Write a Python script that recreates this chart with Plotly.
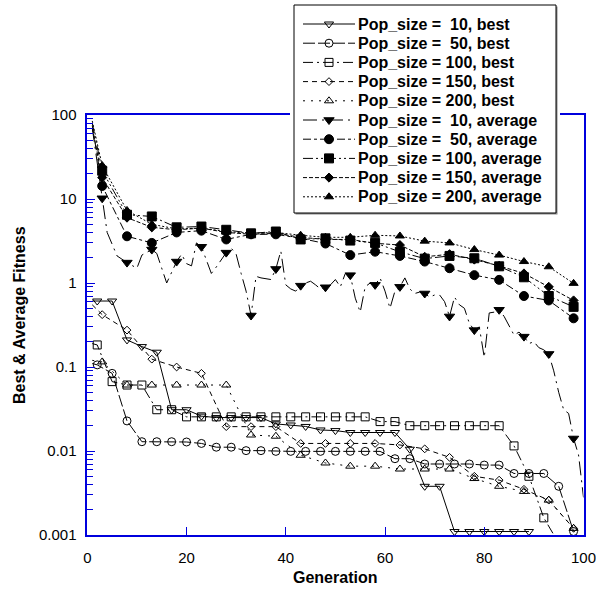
import plotly.graph_objects as go

# ---------------- data ----------------
GEN_STEP3 = [2, 5, 8, 11, 14, 17, 20, 23, 26, 29, 32, 35, 38, 41, 44, 47, 50,
             53, 56, 59, 62, 65, 68, 71, 74, 77, 80, 83, 86, 89, 92, 95, 98]
GEN_STEP5 = [3, 8, 13, 18, 23, 28, 33, 38, 43, 48, 53, 58, 63, 68, 73, 78,
             83, 88, 93, 98]
START_GEN = 1

P10_BEST = [0.61, 0.61, 0.21, 0.175, 0.15, 0.031, 0.031, 0.026, 0.025, 0.025,
            0.025, 0.025, 0.021, 0.0204, 0.0196, 0.0178, 0.0175, 0.0166, 0.0166, 0.0166,
            0.0166, 0.0105, 0.0038, 0.0038, 0.0011, 0.0011, 0.0011, 0.0011, 0.0011, 0.0011]
P50_BEST = [0.106, 0.084, 0.0228, 0.0129, 0.0129, 0.0129, 0.0128, 0.0123, 0.0111, 0.0111,
            0.0101, 0.0101, 0.0099, 0.0099, 0.0099, 0.0099, 0.0099, 0.0099, 0.0099, 0.0099,
            0.0081, 0.0081, 0.0070, 0.0070, 0.0070, 0.0070, 0.0068, 0.0068, 0.0054, 0.0054,
            0.0054, 0.0038, 0.0011]
P100_BEST = [0.183, 0.067, 0.061, 0.061, 0.031, 0.031, 0.0255, 0.0255, 0.0255, 0.0255,
             0.0255, 0.0255, 0.0255, 0.0255, 0.0255, 0.0255, 0.0255, 0.0255, 0.0255, 0.0224,
             0.0224, 0.020, 0.020, 0.020, 0.020, 0.020, 0.020, 0.020, 0.0115, 0.0050,
             0.0016, 0.0008]
P150_BEST = [0.42, 0.275, 0.124, 0.10, 0.084, 0.0195, 0.0195, 0.0195, 0.0123, 0.0123,
             0.0123, 0.0123, 0.0118, 0.0106, 0.0084, 0.0050, 0.0045, 0.0035, 0.0026, 0.0012]
P200_BEST = [0.115, 0.061, 0.061, 0.061, 0.061, 0.061, 0.0155, 0.0150, 0.0089, 0.0072,
             0.0066, 0.0066, 0.0061, 0.0061, 0.0061, 0.0047, 0.0038, 0.0033, 0.0026, 0.0012]

P10_AVG = [10.2, 1.75, 2.5, 1.8, 2.7, 2.3, 0.41, 1.47, 0.93, 0.89,
           1.24, 0.95, 0.90, 0.75, 0.40, 0.275, 0.48, 0.23, 0.143, 0.0141]
P50_AVG = [14.3, 3.6, 3.0, 4.0, 4.2, 3.3, 3.8, 3.8, 3.4, 2.95,
           2.15, 2.36, 2.1, 1.8, 1.5, 1.24, 1.09, 0.70, 0.62, 0.38]
P100_AVG = [21.7, 6.5, 6.2, 4.6, 4.7, 4.3, 3.9, 4.1, 3.3, 3.4,
            3.2, 3.0, 2.35, 1.95, 2.1, 1.97, 1.58, 1.17, 0.70, 0.52]
P150_AVG = [18.0, 6.0, 4.6, 4.3, 4.5, 4.0, 3.8, 3.9, 3.5, 3.3,
            3.3, 2.97, 2.83, 2.05, 2.2, 1.9, 1.6, 1.3, 0.90, 0.62]
P200_AVG = [25.0, 7.3, 5.0, 4.4, 4.5, 4.1, 3.9, 4.0, 3.7, 3.5,
            3.5, 3.7, 3.63, 3.15, 3.0, 2.5, 2.15, 1.8, 1.56, 0.99]

# generation-by-generation path of the (very noisy) Pop_size = 10 average curve
P10_AVG_LINE_GEN = [1, 3, 4, 6, 8, 10, 11, 13, 14, 16, 18, 19, 20, 21, 22, 23, 25, 26, 28, 29,
                    30, 31, 32, 33, 34, 35, 37, 38, 39, 40, 41, 42, 43, 44, 45, 46, 47, 48, 49, 50,
                    51, 52, 53, 54, 55, 56, 57, 58, 59, 60, 61, 62, 63, 64, 65, 66, 67, 68, 69, 70,
                    71, 72, 73, 74, 75, 76, 77, 78, 79, 80, 81, 82, 83, 84, 86, 87, 88, 89, 90, 91,
                    92, 93, 94, 95, 96, 97, 98, 99, 100]
P10_AVG_LINE = [70, 10.2, 4.0, 2.1, 1.75, 1.5, 2.15, 2.5, 2.25, 1.0, 1.8, 2.2, 1.7, 1.6, 3.0, 2.7, 1.3, 1.55, 2.3, 2.6,
                2.2, 1.3, 0.8, 0.41, 1.2, 1.15, 1.1, 1.47, 2.4, 0.95, 0.85, 0.8, 0.93, 1.0, 1.05, 0.95, 0.85, 0.89, 0.95, 1.1,
                0.9, 1.3, 1.24, 0.66, 0.45, 0.9, 1.0, 0.95, 1.15, 0.8, 0.5, 0.8, 0.90, 1.15, 0.85, 0.75, 0.78, 0.75, 0.68, 0.72,
                0.72, 0.6, 0.40, 0.68, 0.55, 0.5, 0.33, 0.275, 0.3, 0.13, 0.44, 0.45, 0.48, 0.4, 0.24, 0.26, 0.23, 0.19, 0.2, 0.17,
                0.16, 0.143, 0.09, 0.05, 0.031, 0.028, 0.0141, 0.009, 0.0028]

SERIES_NAMES = ["Pop_size = \u00a010, best", "Pop_size = \u00a050, best", "Pop_size = 100, best",
                "Pop_size = 150, best", "Pop_size = 200, best",
                "Pop_size = \u00a010, average", "Pop_size = \u00a050, average", "Pop_size = 100, average",
                "Pop_size = 150, average", "Pop_size = 200, average"]
SERIES_GENS = [GEN_STEP3, GEN_STEP3, GEN_STEP3, GEN_STEP5, GEN_STEP5,
               GEN_STEP5, GEN_STEP5, GEN_STEP5, GEN_STEP5, GEN_STEP5]
SERIES_VALS = [P10_BEST, P50_BEST, P100_BEST, P150_BEST, P200_BEST,
               P10_AVG, P50_AVG, P100_AVG, P150_AVG, P200_AVG]
START_VALS = [0.61, 0.11, 0.19, 0.55, 0.12, None, 75, 80, 70, 85]

# ---------------- styles ----------------
SYMBOLS = ["triangle-down-open", "circle-open", "square-open", "diamond-open", "triangle-up-open",
           "triangle-down", "circle", "square", "diamond", "triangle-up"]
SIZES = [8, 8, 8, 6, 8, 9, 9, 9, 7, 8]
DASHES = ["solid", "12px,3px", "10px,4px,2px,4px", "5px,4px", "2px,6px",
          "14px,5px,2px,5px", "8px,3px,3px,3px", "10px,3px,2px,3px,2px,3px", "4px,2px", "2px,2px"]

W, H = 596, 589
PL, PR, PT, PB = 87.3, 583.5, 115, 535
BLUE = "#0000dd"
FONT = "Liberation Sans, Arial, sans-serif"

fig = go.Figure()

for i, name in enumerate(SERIES_NAMES):
    gens, vals = SERIES_GENS[i], SERIES_VALS[i]
    mg = gens[:len(vals)]
    if i == 5:
        lx, ly = P10_AVG_LINE_GEN, P10_AVG_LINE
    else:
        lx = [START_GEN] + mg
        ly = [START_VALS[i]] + vals
    fig.add_trace(go.Scatter(x=lx, y=ly, mode="lines", showlegend=False, hoverinfo="skip",
                             line=dict(color="black", width=1, dash=DASHES[i])))
    fig.add_trace(go.Scatter(x=mg, y=vals, mode="markers", showlegend=False, name=name,
                             marker=dict(symbol=SYMBOLS[i], size=SIZES[i], color="black",
                                         line=dict(color="black", width=1))))

# ---------------- legend panel (own sub-plot so it covers the data) ----------------
BOX_W, BOX_H = 262, 208
fig.add_trace(go.Scatter(x=[1.5, BOX_W + 1.5, BOX_W + 1.5, 1.5, 1.5],
                         y=[1.5, 1.5, BOX_H + 1.5, BOX_H + 1.5, 1.5],
                         fill="toself", fillcolor="#888888", mode="lines",
                         line=dict(width=0, color="#888888"),
                         xaxis="x2", yaxis="y2", showlegend=False, hoverinfo="skip"))
fig.add_trace(go.Scatter(x=[0, BOX_W, BOX_W, 0, 0], y=[0, 0, BOX_H, BOX_H, 0],
                         fill="toself", fillcolor="white", mode="lines",
                         line=dict(width=1, color="black"),
                         xaxis="x2", yaxis="y2", showlegend=False, hoverinfo="skip"))
for i, name in enumerate(SERIES_NAMES):
    row = 19 + 19.2 * i
    fig.add_trace(go.Scatter(x=[9, 61], y=[row, row], mode="lines", xaxis="x2", yaxis="y2",
                             showlegend=False, hoverinfo="skip",
                             line=dict(color="black", width=1, dash=DASHES[i])))
    fig.add_trace(go.Scatter(x=[35], y=[row], mode="markers", xaxis="x2", yaxis="y2",
                             showlegend=False, hoverinfo="skip",
                             marker=dict(symbol=SYMBOLS[i], size=SIZES[i], color="black",
                                         line=dict(color="black", width=1))))
    fig.add_annotation(x=62, y=row, xref="x2", yref="y2", text=name, showarrow=False,
                       xanchor="left", yanchor="middle",
                       font=dict(family=FONT, size=16, color="black", weight="bold"))

# ---------------- axes ----------------
minor_vals = [m * 10 ** e for e in range(-3, 2) for m in range(2, 10)]
fig.update_layout(
    template="none",
    width=W, height=H, autosize=False,
    margin=dict(l=0, r=0, t=0, b=0, pad=0, autoexpand=False),
    paper_bgcolor="white", plot_bgcolor="white", showlegend=False,
    font=dict(family=FONT, color="black"),
    xaxis=dict(domain=[PL / W, PR / W], range=[0, 100], tickvals=[0, 20, 40, 60, 80, 100],
               ticks="inside", ticklen=8, tickcolor=BLUE, tickwidth=1,
               showline=True, linecolor=BLUE, linewidth=1.5, mirror=True,
               showgrid=False, zeroline=False, tickfont=dict(size=15, family=FONT),
               ticklabelstandoff=8, ticklabeloverflow="allow", anchor="y", automargin=False),
    yaxis=dict(domain=[1 - PB / H, 1 - PT / H], type="log", range=[-3, 2],
               tickvals=[0.001, 0.01, 0.1, 1, 10, 100],
               ticktext=["0.001", "0.01", "0.1", "1", "10", "100"],
               ticks="inside", ticklen=8, tickcolor=BLUE, tickwidth=1,
               minor=dict(tickvals=minor_vals, ticks="inside", ticklen=6, tickcolor=BLUE,
                          tickwidth=1, showgrid=False),
               showline=True, linecolor=BLUE, linewidth=1.5, mirror=True,
               showgrid=False, zeroline=False, tickfont=dict(size=15, family=FONT),
               ticklabelstandoff=6, ticklabeloverflow="allow", anchor="x", automargin=False),
    xaxis2=dict(domain=[290 / W, 560 / W], range=[-4, 266], visible=False, anchor="y2",
                fixedrange=True, automargin=False),
    yaxis2=dict(domain=[1 - 217 / H, 1 - 1 / H], range=[212, -4], visible=False, anchor="x2",
                fixedrange=True, automargin=False),
)

fig.add_annotation(x=(PL + PR) / 2 / W, y=1 - 577 / H, xref="paper", yref="paper",
                   text="Generation", showarrow=False, xanchor="center", yanchor="middle",
                   font=dict(family=FONT, size=16, color="black", weight="bold"))
fig.add_annotation(x=19 / W, y=1 - 315 / H, xref="paper", yref="paper",
                   text="Best & Average Fitness", showarrow=False, textangle=-90,
                   xanchor="center", yanchor="middle",
                   font=dict(family=FONT, size=16, color="black", weight="bold"))

fig.write_html("out.html", config={"displayModeBar": False},
               post_script="document.body.style.margin='0px';")
